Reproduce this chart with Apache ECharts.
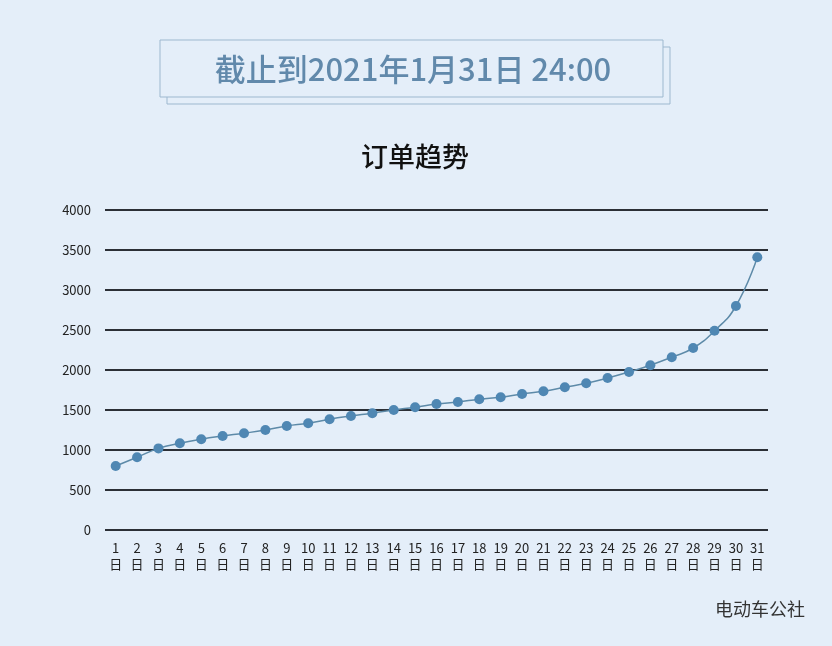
<!DOCTYPE html>
<html>
<head>
<meta charset="UTF-8" />
<script src="https://cdn.jsdelivr.net/npm/echarts@6/dist/echarts.min.js"></script>
<style>
  html, body { margin: 0; padding: 0; background: #e4eef9; }
  #main { width: 832px; height: 646px; }
</style>
</head>
<body>
<div id="main"></div>
<script>
  var days = [];
  for (var d = 1; d <= 31; d++) days.push(d + "\n日");
  var orders = [800, 910, 1020, 1085, 1135, 1175, 1210, 1250, 1300, 1335, 1385, 1425, 1460, 1500, 1535,
    1575, 1600, 1635, 1660, 1700, 1735, 1785, 1835, 1900, 1975, 2060, 2160, 2275, 2490, 2800, 3410];

  var myChart = echarts.init(document.getElementById("main"));
  var font = "Noto Sans CJK SC";
  var option = {
    backgroundColor: "#e4eef9",
    animation: false,
    graphic: [
      { type: "rect", shape: { x: 167, y: 47, width: 503, height: 57 },
        style: { fill: "#e4eef9", stroke: "#9db8cf", lineWidth: 1 } },
      { type: "rect", shape: { x: 160, y: 40, width: 503, height: 57 },
        style: { fill: "#e4eef9", stroke: "#9db8cf", lineWidth: 1 } },
      { type: "text", x: 413, y: 69, style: { text: "截止到2021年1月31日 24:00", fill: "#6189ab",
        font: "500 31px 'Noto Sans CJK SC'", textAlign: "center", textVerticalAlign: "middle" } },
      { type: "text", x: 415, y: 157, style: { text: "订单趋势", fill: "#111",
        font: "500 27px 'Noto Sans CJK SC'", textAlign: "center", textVerticalAlign: "middle" } },
      { type: "text", x: 805, y: 609, style: { text: "电动车公社", fill: "#333",
        font: "18px 'Noto Sans CJK SC'", textAlign: "right", textVerticalAlign: "middle" } }
    ],
    grid: { left: 105, right: 64, top: 210, bottom: 116 },
    xAxis: {
      type: "category",
      data: days,
      axisLine: { show: false },
      axisTick: { show: false },
      axisLabel: { color: "#222", fontSize: 13, fontFamily: font, lineHeight: 16, margin: 10, interval: 0 }
    },
    yAxis: {
      type: "value",
      min: 0, max: 4000, interval: 500,
      axisLine: { show: false },
      axisTick: { show: false },
      axisLabel: { color: "#222", fontSize: 13, fontFamily: font, margin: 14,
        formatter: function (v) { return String(v); } },
      splitLine: { lineStyle: { color: "#2b2f36", width: 2 } }
    },
    series: [{
      type: "line",
      data: orders,
      smooth: true,
      symbol: "circle",
      symbolSize: 10,
      itemStyle: { color: "#4f87b3" },
      lineStyle: { color: "#5d8aa8", width: 1.5 }
    }]
  };
  myChart.setOption(option);
</script>
</body>
</html>
